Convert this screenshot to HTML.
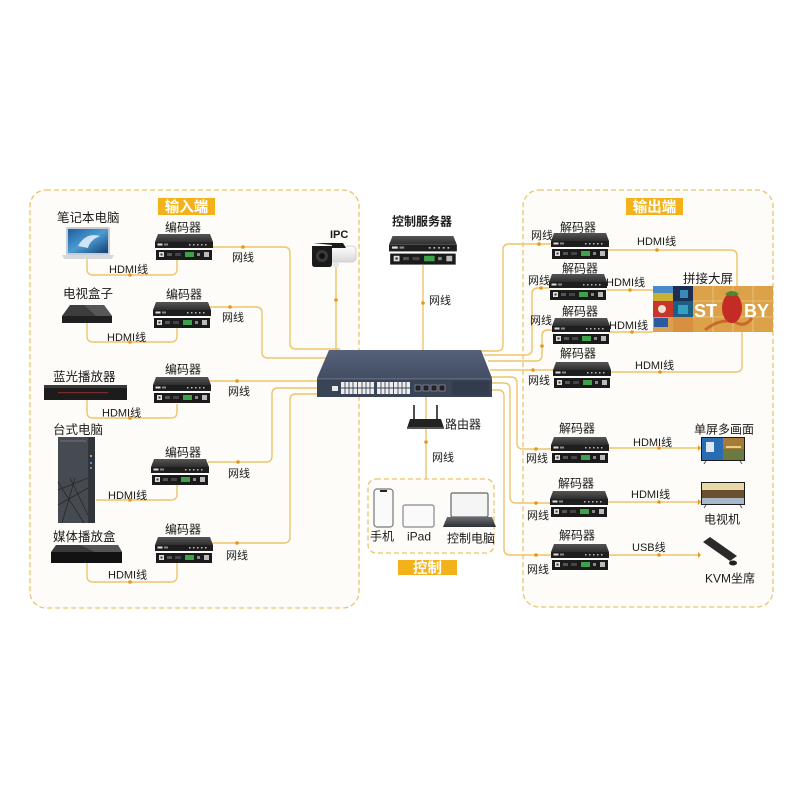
<!DOCTYPE html>
<html><head><meta charset="utf-8">
<style>
html,body{margin:0;padding:0;background:#fff;}
svg{display:block;}
text{font-family:"Liberation Sans","Noto Sans CJK SC",sans-serif;fill:#1a1a1a;}
.t12{font-size:12px;}
.t125{font-size:12.5px;}
.t11{font-size:11px;}
.lbl{font-size:14.5px;font-weight:bold;fill:#fff;}
</style></head>
<body>
<svg width="800" height="800" viewBox="0 0 800 800" xmlns="http://www.w3.org/2000/svg">
<defs>
  <linearGradient id="topg" x1="0" y1="0" x2="0" y2="1">
    <stop offset="0" stop-color="#555"/><stop offset="1" stop-color="#2e2e2e"/>
  </linearGradient>
  <linearGradient id="swtop" x1="0" y1="0" x2="0" y2="1">
    <stop offset="0" stop-color="#56627a"/><stop offset="1" stop-color="#434e63"/>
  </linearGradient>
  <linearGradient id="scr" x1="0" y1="0" x2="1" y2="1">
    <stop offset="0" stop-color="#1d5e9e"/><stop offset="0.5" stop-color="#4d9bd3"/><stop offset="1" stop-color="#123f73"/>
  </linearGradient>
  <linearGradient id="lapbase" x1="0" y1="0" x2="0" y2="1">
    <stop offset="0" stop-color="#6a6d72"/><stop offset="1" stop-color="#2d2f33"/>
  </linearGradient>
  <linearGradient id="camw" x1="0" y1="0" x2="0" y2="1">
    <stop offset="0" stop-color="#ffffff"/><stop offset="1" stop-color="#d8d8d8"/>
  </linearGradient>
  <g id="codec">
    <polygon points="3,0 55,0 58,8 0,8" fill="url(#topg)"/>
    <rect x="0" y="8" width="58" height="6" fill="#1e1e1e"/>
    <rect x="2.5" y="9.5" width="5" height="2" fill="#ddd"/>
    <rect x="9" y="9.5" width="4" height="2" fill="#888"/>
    <rect x="34" y="10" width="1.5" height="1.5" fill="#bbb"/>
    <rect x="38" y="10" width="1.5" height="1.5" fill="#bbb"/>
    <rect x="42" y="10" width="1.5" height="1.5" fill="#bbb"/>
    <rect x="46" y="10" width="1.5" height="1.5" fill="#bbb"/>
    <rect x="50" y="10" width="1.5" height="1.5" fill="#bbb"/>
    <rect x="1" y="16" width="56" height="10" fill="#1b1b1b"/>
    <rect x="4" y="18" width="5" height="5" fill="#e0e0e0"/>
    <rect x="5.5" y="19.5" width="2" height="2" fill="#333"/>
    <rect x="12" y="19" width="5" height="3" fill="#555"/>
    <rect x="20" y="19" width="6" height="3" fill="#444"/>
    <rect x="30" y="18" width="9" height="5" fill="#3da24a"/>
    <rect x="42" y="19" width="3" height="3" fill="#888"/>
    <rect x="49" y="18" width="5" height="5" fill="#bbb"/>
  </g>
</defs>

<!-- panels -->
<rect x="30" y="190" width="329" height="418" rx="16" fill="#fdfcf8" stroke="#e9c46f" stroke-width="1.3" stroke-dasharray="5 3"/>
<rect x="523" y="190" width="250" height="417" rx="16" fill="#fdfcf8" stroke="#e9c46f" stroke-width="1.3" stroke-dasharray="5 3"/>
<rect x="368" y="479" width="126" height="74" rx="8" fill="#fdfcf8" stroke="#e9c46f" stroke-width="1.3" stroke-dasharray="5 3"/>

<!-- title labels -->
<rect x="158" y="198" width="57" height="17" fill="#f3b21b"/>
<text x="186.5" y="212" text-anchor="middle" class="lbl">输入端</text>
<rect x="626" y="198" width="57" height="17" fill="#f3b21b"/>
<text x="654.5" y="212" text-anchor="middle" class="lbl">输出端</text>
<rect x="398" y="560" width="59" height="15" fill="#f3b21b"/>
<text x="427.5" y="573" text-anchor="middle" class="lbl">控制</text>

<!-- connector lines -->
<g fill="none" stroke="#eec46a" stroke-width="1.4">
  <path d="M87 258 V269 Q87 275 93 275 H171 Q177 275 177 269 V259"/>
  <path d="M87 323 V336 Q87 342 93 342 H171 Q177 342 177 336 V328"/>
  <path d="M87 400 V412 Q87 418 93 418 H171 Q177 418 177 412 V404"/>
  <path d="M96 500 H171 Q177 500 177 494 V484"/>
  <path d="M87 563 V576 Q87 582 93 582 H171 Q177 582 177 576 V563"/>
  <path d="M213 247 H284 Q290 247 290 253 V343 Q290 349 296 349 H340"/>
  <path d="M209 307 H256 Q262 307 262 313 V352 Q262 358 268 358 H330"/>
  <path d="M209 381 H320"/>
  <path d="M208 462 H266 Q272 462 272 456 V394 Q272 388 278 388 H320"/>
  <path d="M212 543 H284 Q290 543 290 537 V400 Q290 394 296 394 H320"/>
  <path d="M336 267 V352"/>
  <path d="M423 265 V352"/>
  <path d="M426 396 V479"/>
  <path d="M476 351 H497 Q503 351 503 345 V250 Q503 244 509 244 H551"/>
  <path d="M484 355 H526 Q532 355 532 349 V294 Q532 288 538 288 H549"/>
  <path d="M488 361 H536 Q542 361 542 355 V336 Q542 330 548 330 H552"/>
  <path d="M490 370 H553"/>
  <path d="M490 377 H511 Q517 377 517 383 V443 Q517 449 523 449 H551"/>
  <path d="M490 383 H504 Q510 383 510 389 V497 Q510 503 516 503 H550"/>
  <path d="M490 390 H498 Q504 390 504 396 V549 Q504 555 510 555 H551"/>
  <path d="M608 250 H731 Q737 250 737 256 V287"/>
  <path d="M607 290 H653"/>
  <path d="M609 332 H653"/>
  <path d="M609 372 H736 Q742 372 742 366 V332"/>
  <path d="M608 448 H698"/>
  <path d="M607 502 H698"/>
  <path d="M608 555 H698"/>
</g>
<!-- dots -->
<g fill="#e39a1c">
  <circle cx="130" cy="275" r="1.8"/><circle cx="130" cy="342" r="1.8"/><circle cx="130" cy="418" r="1.8"/>
  <circle cx="130" cy="500" r="1.8"/><circle cx="130" cy="582" r="1.8"/>
  <circle cx="243" cy="247" r="1.8"/><circle cx="230" cy="307" r="1.8"/><circle cx="237" cy="381" r="1.8"/>
  <circle cx="238" cy="462" r="1.8"/><circle cx="237" cy="543" r="1.8"/>
  <circle cx="336" cy="300" r="1.8"/><circle cx="423" cy="303" r="1.8"/><circle cx="426" cy="442" r="1.8"/>
  <circle cx="539" cy="244" r="1.8"/><circle cx="541" cy="288" r="1.8"/><circle cx="542" cy="346" r="1.8"/>
  <circle cx="533" cy="370" r="1.8"/><circle cx="536" cy="449" r="1.8"/><circle cx="536" cy="503" r="1.8"/>
  <circle cx="536" cy="555" r="1.8"/>
  <circle cx="657" cy="250" r="1.8"/><circle cx="630" cy="290" r="1.8"/><circle cx="632" cy="332" r="1.8"/>
  <circle cx="660" cy="372" r="1.8"/><circle cx="659" cy="448" r="1.8"/><circle cx="659" cy="502" r="1.8"/>
  <circle cx="659" cy="555" r="1.8"/>
  <polygon points="698,445 698,451 701,448"/><polygon points="698,499 698,505 701,502"/><polygon points="698,552 698,558 701,555"/>
</g>

<!-- codecs -->
<use href="#codec" x="155" y="234"/>
<use href="#codec" x="153" y="302"/>
<use href="#codec" x="153" y="377"/>
<use href="#codec" x="151" y="459"/>
<use href="#codec" x="155" y="537"/>
<use href="#codec" x="551" y="233"/>
<use href="#codec" x="549" y="274"/>
<use href="#codec" x="552" y="318"/>
<use href="#codec" x="553" y="362"/>
<use href="#codec" x="551" y="437"/>
<use href="#codec" x="550" y="491"/>
<use href="#codec" x="551" y="544"/>
<use href="#codec" transform="translate(389,236) scale(1.17,1.1)"/>

<!-- laptop -->
<rect x="66" y="227" width="44" height="28" rx="2" fill="#c9cdd3"/>
<rect x="68" y="229" width="40" height="24" fill="url(#scr)"/>
<path d="M78 246 Q86 232 100 236 Q90 240 88 248 Z" fill="#e6f2fb" opacity="0.85"/>
<polygon points="62,255 114,255 112,259 64,259" fill="#d6d8db"/>
<!-- tv box -->
<polygon points="70,305 104,305 112,316 62,316" fill="#3d3d3d"/>
<polygon points="84,305 104,305 112,316 96,316" fill="#575757"/>
<rect x="62" y="316" width="50" height="7" fill="#202020"/>
<!-- bluray -->
<rect x="44" y="385" width="83" height="15" fill="#1c1c1c"/>
<rect x="44" y="385" width="83" height="3" fill="#3a3a3a"/>
<rect x="58" y="392" width="50" height="1.2" fill="#7a2a2a"/>
<!-- tower -->
<rect x="58" y="437" width="37" height="86" fill="#464b51"/>
<rect x="88" y="437" width="7" height="86" fill="#31353a"/>
<rect x="60" y="440" width="26" height="2" fill="#5a6066"/>
<circle cx="91" cy="456" r="1" fill="#ccc"/><rect x="90" y="462" width="2" height="2" fill="#4a90d0"/><rect x="90" y="467" width="2" height="2" fill="#4a90d0"/>
<g stroke="#25282c" stroke-width="0.8">
  <line x1="58" y1="490" x2="88" y2="478"/><line x1="58" y1="505" x2="88" y2="488"/><line x1="62" y1="523" x2="75" y2="478"/>
  <line x1="70" y1="478" x2="88" y2="515"/><line x1="58" y1="482" x2="84" y2="523"/>
</g>
<!-- media box -->
<polygon points="56,545 118,545 122,552 51,552" fill="#3a3a3a"/>
<polygon points="80,545 118,545 122,552 95,552" fill="#555"/>
<rect x="51" y="552" width="71" height="11" fill="#121212"/>

<!-- IPC camera -->
<rect x="326" y="246" width="30" height="16" rx="4" fill="url(#camw)" stroke="#c8c8c8" stroke-width="0.8"/>
<path d="M313 243 H343 L346 248 H332 V245 Z" fill="#1b1b1b"/>
<path d="M312 246 H332 V264 Q332 267 329 267 H315 Q312 267 312 264 Z" fill="#1b1b1b"/>
<circle cx="322" cy="256" r="6" fill="#3a3a3a"/><circle cx="322" cy="256" r="3" fill="#111"/>
<rect x="333" y="262" width="6" height="5" fill="#e6e6e6"/>

<!-- switch -->
<polygon points="329,350 481,350 492,378 317,378" fill="url(#swtop)"/>
<rect x="317" y="378" width="175" height="19" fill="#3a4457"/>
<rect x="317" y="378" width="175" height="1.5" fill="#5c6880"/>
<rect x="332" y="386" width="6" height="5" fill="#e8e8e8"/>
<rect x="341" y="382" width="33" height="12" fill="#eee"/>
<rect x="377" y="382" width="33" height="12" fill="#eee"/>
<g stroke="#3a4457" stroke-width="0.9">
  <line x1="341" y1="388" x2="374" y2="388"/><line x1="377" y1="388" x2="410" y2="388"/>
  <line x1="345" y1="382" x2="345" y2="394"/><line x1="349" y1="382" x2="349" y2="394"/><line x1="353" y1="382" x2="353" y2="394"/><line x1="357.5" y1="382" x2="357.5" y2="394"/><line x1="362" y1="382" x2="362" y2="394"/><line x1="366" y1="382" x2="366" y2="394"/><line x1="370" y1="382" x2="370" y2="394"/>
  <line x1="381" y1="382" x2="381" y2="394"/><line x1="385" y1="382" x2="385" y2="394"/><line x1="389" y1="382" x2="389" y2="394"/><line x1="393.5" y1="382" x2="393.5" y2="394"/><line x1="398" y1="382" x2="398" y2="394"/><line x1="402" y1="382" x2="402" y2="394"/><line x1="406" y1="382" x2="406" y2="394"/>
</g>
<g fill="#222" stroke="#aab" stroke-width="0.6">
  <rect x="415" y="385" width="6" height="6"/><rect x="423" y="385" width="6" height="6"/><rect x="431" y="385" width="6" height="6"/><rect x="439" y="385" width="6" height="6"/>
</g>
<rect x="452" y="381" width="37" height="14" fill="#333c4d"/>

<!-- router -->
<g stroke="#222" stroke-width="1.6"><line x1="414" y1="405" x2="414" y2="420"/><line x1="437" y1="405" x2="437" y2="420"/></g>
<polygon points="410,419 441,419 444,428 407,428" fill="#222"/>
<rect x="407" y="427" width="37" height="2" fill="#555"/>

<!-- control devices -->
<rect x="374" y="489" width="19" height="38" rx="3" fill="#fafafa" stroke="#777" stroke-width="1.2"/>
<rect x="380" y="490" width="7" height="2" fill="#222"/>
<rect x="403" y="505" width="31" height="22" rx="2" fill="#fafafa" stroke="#888" stroke-width="1.2"/>
<rect x="451" y="493" width="37" height="24" rx="1.5" fill="#f5f5f5" stroke="#666" stroke-width="1.2"/>
<polygon points="447,517 492,517 496,527 443,527" fill="url(#lapbase)"/>

<!-- video wall -->
<rect x="653" y="286" width="120" height="46" fill="#dba24a"/>
<rect x="653" y="286" width="20" height="15" fill="#c8b030"/><rect x="653" y="286" width="20" height="7" fill="#4a8ac8"/>
<rect x="673" y="286" width="20" height="15" fill="#1c2e52"/><rect x="680" y="290" width="8" height="8" fill="#3a8ab8"/>
<rect x="653" y="301" width="20" height="16" fill="#c8362a"/><circle cx="662" cy="309" r="4" fill="#f0e0d0"/>
<rect x="673" y="301" width="20" height="16" fill="#1a5f86"/><rect x="678" y="305" width="10" height="9" fill="#35a0c0"/>
<rect x="653" y="317" width="20" height="15" fill="#d8a050"/><rect x="654" y="318" width="14" height="9" fill="#2a5aa0"/>
<rect x="673" y="317" width="20" height="15" fill="#d89040"/>
<g stroke="#ebc886" stroke-width="0.8">
  <line x1="713" y1="286" x2="713" y2="332"/><line x1="733" y1="286" x2="733" y2="332"/><line x1="753" y1="286" x2="753" y2="332"/>
  <line x1="693" y1="301" x2="773" y2="301"/><line x1="693" y1="317" x2="773" y2="317"/>
</g>
<path d="M705 330 Q720 318 735 322 Q745 328 752 318" fill="none" stroke="#c4501e" stroke-width="3" opacity="0.7"/>
<text x="694" y="317" style="font-size:18px;font-weight:bold;fill:#fff;">ST</text>
<ellipse cx="732" cy="308" rx="10" ry="15" fill="#c52b25"/>
<path d="M725 294 Q732 288 739 294 Q732 298 725 294 Z" fill="#4a8a30"/>
<text x="744" y="317" style="font-size:18px;font-weight:bold;fill:#fff;">BY</text>

<!-- single screen multi view -->
<rect x="701" y="437" width="44" height="24" fill="#1a1a1a"/>
<rect x="702" y="438" width="21" height="22" fill="#2a6cb4"/>
<rect x="706" y="442" width="8" height="10" fill="#dbe8f4"/>
<rect x="723" y="438" width="21" height="11" fill="#a67a38"/>
<rect x="723" y="449" width="21" height="11" fill="#6a7a40"/>
<rect x="726" y="446" width="15" height="2" fill="#e8d080"/>
<line x1="706" y1="461" x2="704" y2="464" stroke="#555"/><line x1="740" y1="461" x2="742" y2="464" stroke="#555"/>
<!-- tv -->
<rect x="701" y="482" width="44" height="23" fill="#1a1a1a"/>
<rect x="702" y="483" width="42" height="7" fill="#e8d8a8"/>
<rect x="702" y="490" width="42" height="8" fill="#6a5030"/>
<rect x="702" y="498" width="42" height="6" fill="#a8b8c8"/>
<line x1="706" y1="505" x2="704" y2="508" stroke="#555"/><line x1="740" y1="505" x2="742" y2="508" stroke="#555"/>
<!-- keyboard -->
<polygon points="703,542 710,537 737,556 730,561" fill="#2a2a2a"/>
<ellipse cx="733" cy="563" rx="4" ry="2.5" fill="#222"/>

<!-- text labels -->
<g class="t125">
  <text x="57" y="222">笔记本电脑</text>
  <text x="63" y="298">电视盒子</text>
  <text x="53" y="381">蓝光播放器</text>
  <text x="53" y="434">台式电脑</text>
  <text x="53" y="541">媒体播放盒</text>
  <text x="683" y="283">拼接大屏</text>
</g>
<g class="t12">
  <text x="165" y="231.5">编码器</text>
  <text x="166" y="298.5">编码器</text>
  <text x="165" y="373.5">编码器</text>
  <text x="165" y="456.5">编码器</text>
  <text x="165" y="533.5">编码器</text>
  <text x="560" y="231.5">解码器</text>
  <text x="562" y="272.5">解码器</text>
  <text x="562" y="315.5">解码器</text>
  <text x="560" y="357.5">解码器</text>
  <text x="559" y="432.5">解码器</text>
  <text x="558" y="487.5">解码器</text>
  <text x="559" y="539.5">解码器</text>
  <text x="445" y="428.5">路由器</text>
  <text x="370" y="540.5">手机</text>
  <text x="407" y="540.5">iPad</text>
  <text x="447" y="542.5">控制电脑</text>
  <text x="694" y="433.5">单屏多画面</text>
  <text x="704" y="523.5">电视机</text>
  <text x="705" y="582.5">KVM坐席</text>
  <text x="392" y="225.5" style="font-weight:bold">控制服务器</text>
</g>
<text x="330" y="238" style="font-size:11px;font-weight:bold">IPC</text>
<g class="t11">
  <text x="109" y="273">HDMI线</text>
  <text x="107" y="341">HDMI线</text>
  <text x="102" y="416.5">HDMI线</text>
  <text x="108" y="499">HDMI线</text>
  <text x="108" y="578.5">HDMI线</text>
  <text x="232" y="261">网线</text>
  <text x="222" y="321">网线</text>
  <text x="228" y="395">网线</text>
  <text x="228" y="477">网线</text>
  <text x="226" y="559">网线</text>
  <text x="429" y="304">网线</text>
  <text x="432" y="461">网线</text>
  <text x="531" y="239">网线</text>
  <text x="528" y="284">网线</text>
  <text x="530" y="324">网线</text>
  <text x="528" y="384">网线</text>
  <text x="526" y="462">网线</text>
  <text x="527" y="519">网线</text>
  <text x="527" y="573">网线</text>
  <text x="637" y="245">HDMI线</text>
  <text x="606" y="286">HDMI线</text>
  <text x="609" y="329">HDMI线</text>
  <text x="635" y="369">HDMI线</text>
  <text x="633" y="446">HDMI线</text>
  <text x="631" y="498">HDMI线</text>
  <text x="632" y="551">USB线</text>
</g>
</svg>
</body></html>
